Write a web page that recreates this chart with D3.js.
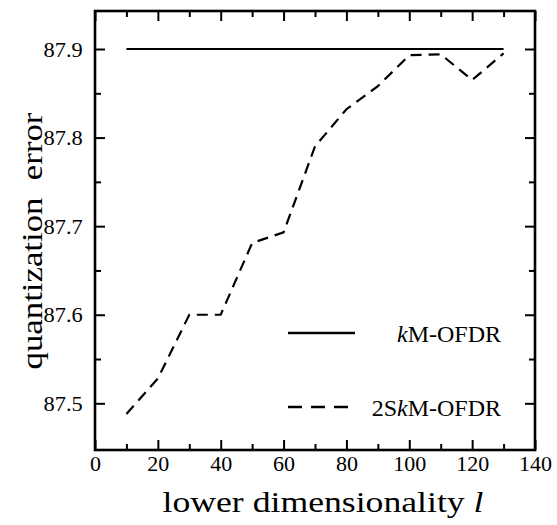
<!DOCTYPE html>
<html>
<head>
<meta charset="utf-8">
<script src="https://cdn.jsdelivr.net/npm/d3@7"></script>
<style>
  html, body { margin: 0; padding: 0; background: #fff; }
  svg { display: block; }
</style>
</head>
<body>
<svg id="chart" width="557" height="525"></svg>
<script>
// ---- data ----
const dims = [10, 20, 30, 40, 50, 60, 70, 80, 90, 100, 110, 120, 130];
const kmOFDR = [87.9, 87.9, 87.9, 87.9, 87.9, 87.9, 87.9, 87.9, 87.9, 87.9, 87.9, 87.9, 87.9];
const twoSkmOFDR = [87.488, 87.528, 87.600, 87.600, 87.681, 87.693, 87.790, 87.832, 87.858, 87.893, 87.894, 87.865, 87.895];
const xMajorTicks = [0, 20, 40, 60, 80, 100, 120, 140];
const xMinorTicks = [10, 30, 50, 70, 90, 110, 130];
const yMajorTicks = [87.5, 87.6, 87.7, 87.8, 87.9];
const yMinorTicks = [87.55, 87.65, 87.75, 87.85];
const seriesNames = ["kM-OFDR", "2SkM-OFDR"];

// ---- layout ----
const L = 95, R = 535, T = 11, B = 450;
const FONT = '"Liberation Serif"';
const svg = d3.select("#chart");
const x = d3.scaleLinear().domain([0, 140]).range([L, R]);
const y = d3.scaleLinear().domain([87.4473, 87.9429]).range([B, T]);

const MAJ = 10, MIN = 6;

function axisGroup(axis, tx, ty) {
  const g = svg.append("g").attr("transform", `translate(${tx},${ty})`).call(axis);
  g.attr("font-family", "Liberation Serif");
  g.select(".domain").remove();
  g.selectAll("line").attr("stroke", "#000").attr("stroke-width", 2);
  return g;
}

// bottom
const gxb = axisGroup(d3.axisBottom(x).tickValues(xMajorTicks).tickSize(-MAJ).tickPadding(7).tickFormat(d3.format("d")), 0, B);
gxb.selectAll("text").style("font-family", FONT).style("font-size", "20px").attr("fill", "#000")
   .attr("dy", "0.71em").attr("transform", "scale(1.1,1)");
axisGroup(d3.axisBottom(x).tickValues(xMinorTicks).tickSize(-MIN).tickFormat(""), 0, B);
// top
axisGroup(d3.axisTop(x).tickValues(xMajorTicks).tickSize(-MAJ).tickFormat(""), 0, T);
axisGroup(d3.axisTop(x).tickValues(xMinorTicks).tickSize(-MIN).tickFormat(""), 0, T);
// left
const gyl = axisGroup(d3.axisLeft(y).tickValues(yMajorTicks).tickSize(-MAJ).tickPadding(11).tickFormat(d3.format(".1f")), L, 0);
gyl.selectAll("text").style("font-family", FONT).style("font-size", "20px").attr("fill", "#000")
   .attr("dy", "0.36em").attr("transform", "scale(1.12,1)");
axisGroup(d3.axisLeft(y).tickValues(yMinorTicks).tickSize(-MIN).tickFormat(""), L, 0);
// right
axisGroup(d3.axisRight(y).tickValues(yMajorTicks).tickSize(-MAJ).tickFormat(""), R, 0);
axisGroup(d3.axisRight(y).tickValues(yMinorTicks).tickSize(-MIN).tickFormat(""), R, 0);

// frame
svg.append("rect").attr("x", L).attr("y", T).attr("width", R - L).attr("height", B - T)
  .attr("fill", "none").attr("stroke", "#000").attr("stroke-width", 2.6);

// lines
const line = d3.line().x(d => x(d[0])).y(d => y(d[1]));
svg.append("path").datum(dims.map((d, i) => [d, kmOFDR[i]]))
  .attr("d", line).attr("fill", "none").attr("stroke", "#000").attr("stroke-width", 2.2);
svg.append("path").datum(dims.map((d, i) => [d, twoSkmOFDR[i]]))
  .attr("d", line).attr("fill", "none").attr("stroke", "#000").attr("stroke-width", 2.2)
  .attr("stroke-dasharray", "11,7");

// legend
const legY = [333, 407];
const legDash = [null, "14,9"];
seriesNames.forEach((name, i) => {
  const l = svg.append("line").attr("x1", 288).attr("x2", 355).attr("y1", legY[i]).attr("y2", legY[i])
    .attr("stroke", "#000").attr("stroke-width", 2.5);
  if (legDash[i]) l.attr("stroke-dasharray", legDash[i]);
  const t = svg.append("text").attr("x", 501).attr("y", legY[i] + 9).attr("text-anchor", "end")
    .style("font-family", FONT).style("font-size", "24px");
  const kIdx = name.indexOf("k");
  t.append("tspan").text(name.slice(0, kIdx));
  t.append("tspan").style("font-style", "italic").text("k");
  t.append("tspan").text(name.slice(kIdx + 1));
});

// axis titles
const xt = svg.append("g").attr("transform", "translate(323,512) scale(1.23,1)")
  .append("text").attr("text-anchor", "middle")
  .style("font-family", FONT).style("font-size", "29px");
xt.append("tspan").text("lower dimensionality ");
xt.append("tspan").style("font-style", "italic").text("l");

svg.append("g").attr("transform", "translate(42,241) rotate(-90) scale(1.2,1)")
  .append("text").attr("text-anchor", "middle")
  .style("font-family", FONT).style("font-size", "29px").style("white-space", "pre")
  .text("quantization  error");
</script>
</body>
</html>
